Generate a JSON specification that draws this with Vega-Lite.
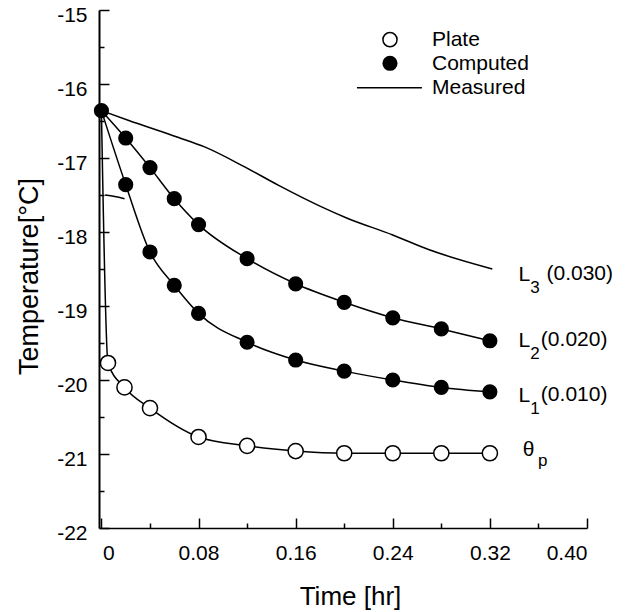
{
  "$schema": "https://vega.github.io/schema/vega-lite/v6.json",
  "width": 488,
  "height": 518,
  "autosize": {"type": "none"},
  "padding": {"left": 99, "top": 10, "right": 48, "bottom": 84},
  "background": "white",
  "config": {
    "view": {"stroke": null},
    "font": "Liberation Sans",
    "axis": {"grid": false, "domainColor": "black", "tickColor": "black", "labelColor": "black", "titleColor": "black", "labelFont": "Liberation Sans", "titleFont": "Liberation Sans", "titleFontWeight": "normal"}
  },
  "resolve": {"axis": {"x": "independent", "y": "independent"}},
  "datasets": {
    "curves": [
      {"s": "Measured", "t": 0, "T": -16.36, "m": "none"},
      {"s": "Measured", "t": 0.022, "T": -16.49, "m": "none"},
      {"s": "Measured", "t": 0.063, "T": -16.72, "m": "none"},
      {"s": "Measured", "t": 0.085, "T": -16.85, "m": "none"},
      {"s": "Measured", "t": 0.118, "T": -17.12, "m": "none"},
      {"s": "Measured", "t": 0.146, "T": -17.37, "m": "none"},
      {"s": "Measured", "t": 0.18, "T": -17.65, "m": "none"},
      {"s": "Measured", "t": 0.202, "T": -17.81, "m": "none"},
      {"s": "Measured", "t": 0.24, "T": -18.04, "m": "none"},
      {"s": "Measured", "t": 0.27, "T": -18.24, "m": "none"},
      {"s": "Measured", "t": 0.322, "T": -18.5, "m": "none"},
      {"s": "L2", "t": 0, "T": -16.36, "m": "filled"},
      {"s": "L2", "t": 0.02, "T": -16.73, "m": "filled"},
      {"s": "L2", "t": 0.04, "T": -17.13, "m": "filled"},
      {"s": "L2", "t": 0.06, "T": -17.55, "m": "filled"},
      {"s": "L2", "t": 0.08, "T": -17.9, "m": "filled"},
      {"s": "L2", "t": 0.12, "T": -18.36, "m": "filled"},
      {"s": "L2", "t": 0.16, "T": -18.7, "m": "filled"},
      {"s": "L2", "t": 0.2, "T": -18.95, "m": "filled"},
      {"s": "L2", "t": 0.24, "T": -19.16, "m": "filled"},
      {"s": "L2", "t": 0.28, "T": -19.31, "m": "filled"},
      {"s": "L2", "t": 0.32, "T": -19.47, "m": "filled"},
      {"s": "L1", "t": 0, "T": -16.36, "m": "none"},
      {"s": "L1", "t": 0.02, "T": -17.36, "m": "filled"},
      {"s": "L1", "t": 0.04, "T": -18.27, "m": "filled"},
      {"s": "L1", "t": 0.06, "T": -18.72, "m": "filled"},
      {"s": "L1", "t": 0.08, "T": -19.1, "m": "filled"},
      {"s": "L1", "t": 0.12, "T": -19.49, "m": "filled"},
      {"s": "L1", "t": 0.16, "T": -19.73, "m": "filled"},
      {"s": "L1", "t": 0.2, "T": -19.88, "m": "filled"},
      {"s": "L1", "t": 0.24, "T": -20.0, "m": "filled"},
      {"s": "L1", "t": 0.28, "T": -20.1, "m": "filled"},
      {"s": "L1", "t": 0.32, "T": -20.16, "m": "filled"},
      {"s": "Plate", "t": 0, "T": -16.36, "m": "none"},
      {"s": "Plate", "t": 0.0054, "T": -19.77, "m": "open"},
      {"s": "Plate", "t": 0.019, "T": -20.1, "m": "open"},
      {"s": "Plate", "t": 0.04, "T": -20.38, "m": "open"},
      {"s": "Plate", "t": 0.08, "T": -20.77, "m": "open"},
      {"s": "Plate", "t": 0.12, "T": -20.89, "m": "open"},
      {"s": "Plate", "t": 0.16, "T": -20.96, "m": "open"},
      {"s": "Plate", "t": 0.2, "T": -20.99, "m": "open"},
      {"s": "Plate", "t": 0.24, "T": -20.99, "m": "open"},
      {"s": "Plate", "t": 0.28, "T": -20.99, "m": "open"},
      {"s": "Plate", "t": 0.32, "T": -20.99, "m": "open"},
      {"s": "Stray", "t": 0.003, "T": -17.5, "m": "none"},
      {"s": "Stray", "t": 0.011, "T": -17.52, "m": "none"},
      {"s": "Stray", "t": 0.019, "T": -17.55, "m": "none"}
    ],
    "legend": [
      {"item": "Plate", "t": 0.2377, "T": -15.4, "kind": "open"},
      {"item": "Computed", "t": 0.2377, "T": -15.72, "kind": "filled"}
    ],
    "legendline": [
      {"item": "Measured", "t": 0.2105, "t2": 0.264, "T": -16.05}
    ],
    "legendtext": [
      {"item": "Plate", "t": 0.2723, "T": -15.4},
      {"item": "Computed", "t": 0.2723, "T": -15.73},
      {"item": "Measured", "t": 0.2723, "T": -16.06}
    ],
    "labels": [
      {"txt": "L", "t": 0.3436, "T": -18.58, "kind": "main"},
      {"txt": "(0.030)", "t": 0.3666, "T": -18.57, "kind": "main"},
      {"txt": "L", "t": 0.3436, "T": -19.47, "kind": "main"},
      {"txt": "(0.020)", "t": 0.362, "T": -19.46, "kind": "main"},
      {"txt": "L", "t": 0.3436, "T": -20.22, "kind": "main"},
      {"txt": "(0.010)", "t": 0.362, "T": -20.2, "kind": "main"},
      {"txt": "θ", "t": 0.347, "T": -20.95, "kind": "main"},
      {"txt": "3", "t": 0.3532, "T": -18.76, "kind": "sub"},
      {"txt": "2", "t": 0.3532, "T": -19.65, "kind": "sub"},
      {"txt": "1", "t": 0.3532, "T": -20.39, "kind": "sub"},
      {"txt": "p", "t": 0.3597, "T": -21.1, "kind": "sub"}
    ]
  },
  "encoding": {
    "x": {"field": "t", "type": "quantitative", "scale": {"domain": [-0.002, 0.4], "nice": false, "zero": false}, "axis": null},
    "y": {"field": "T", "type": "quantitative", "scale": {"domain": [-22, -15], "nice": false, "zero": false}, "axis": null}
  },
  "layer": [
    {
      "data": {"name": "curves"},
      "mark": {"type": "line", "color": "black", "strokeWidth": 1.5, "interpolate": "monotone"},
      "encoding": {
        "detail": {"field": "s"},
        "x": {
          "field": "t", "type": "quantitative",
          "scale": {"domain": [-0.002, 0.4], "nice": false, "zero": false},
          "axis": {
            "orient": "bottom",
            "title": "Time [hr]",
            "values": [0, 0.08, 0.16, 0.24, 0.32, 0.4],
            "labelExpr": "datum.value == 0 ? '0' : format(datum.value, '.2f')",
            "labelOffset": {"condition": {"test": "datum.value == 0", "value": 7}, "value": 0},
            "tickSize": -10,
            "tickWidth": 1.5,
            "domainWidth": 1.5,
            "labelFontSize": 21,
            "labelPadding": 24,
            "titleFontSize": 26,
            "titleX": 251,
            "titleY": 68,
            "titleBaseline": "middle",
            "titleAlign": "center"
          }
        },
        "y": {
          "field": "T", "type": "quantitative",
          "scale": {"domain": [-22, -15], "nice": false, "zero": false},
          "axis": {
            "orient": "left",
            "title": "Temperature[°C]",
            "values": [-22, -21, -20, -19, -18, -17, -16, -15],
            "labelExpr": "'-' + abs(datum.value)",
            "labelOffset": 5,
            "tickSize": -10,
            "tickWidth": 1.5,
            "domainWidth": 2,
            "labelFontSize": 21,
            "labelPadding": 22,
            "titleFontSize": 27,
            "titleX": -70,
            "titleY": 266,
            "titleAngle": -90,
            "titleBaseline": "middle",
            "titleAlign": "center"
          }
        }
      }
    },
    {
      "data": {"name": "curves"},
      "transform": [{"filter": "datum.m == 'filled'"}],
      "mark": {"type": "point", "shape": "circle", "filled": true, "color": "black", "opacity": 1, "size": 230},
      "encoding": {
        "x": {
          "field": "t", "type": "quantitative",
          "scale": {"domain": [-0.002, 0.4], "nice": false, "zero": false},
          "axis": {"orient": "bottom", "values": [0.04, 0.12, 0.2, 0.28, 0.36], "labels": false, "domain": false, "title": null, "tickSize": -5, "tickWidth": 1.5}
        },
        "y": {
          "field": "T", "type": "quantitative",
          "scale": {"domain": [-22, -15], "nice": false, "zero": false},
          "axis": {"orient": "left", "values": [-21.5, -20.5, -19.5, -18.5, -17.5, -16.5, -15.5], "labels": false, "domain": false, "title": null, "tickSize": -5, "tickWidth": 1.5}
        }
      }
    },
    {
      "data": {"name": "curves"},
      "transform": [{"filter": "datum.m == 'open'"}],
      "mark": {"type": "point", "shape": "circle", "filled": true, "fill": "white", "stroke": "black", "strokeWidth": 1.5, "opacity": 1, "size": 230}
    },
    {
      "data": {"name": "legend"},
      "transform": [{"filter": "datum.kind == 'open'"}],
      "mark": {"type": "point", "shape": "circle", "filled": true, "fill": "white", "stroke": "black", "strokeWidth": 1.5, "opacity": 1, "size": 200}
    },
    {
      "data": {"name": "legend"},
      "transform": [{"filter": "datum.kind == 'filled'"}],
      "mark": {"type": "point", "shape": "circle", "filled": true, "color": "black", "opacity": 1, "size": 230}
    },
    {
      "data": {"name": "legendline"},
      "mark": {"type": "rule", "color": "black", "strokeWidth": 1.5},
      "encoding": {"x2": {"field": "t2"}}
    },
    {
      "data": {"name": "legendtext"},
      "mark": {"type": "text", "align": "left", "baseline": "middle", "fontSize": 21, "font": "Liberation Sans", "color": "black"},
      "encoding": {"text": {"field": "item"}}
    },
    {
      "data": {"name": "labels"},
      "transform": [{"filter": "datum.kind == 'main'"}],
      "mark": {"type": "text", "align": "left", "baseline": "middle", "fontSize": 21, "font": "Liberation Sans", "color": "black"},
      "encoding": {"text": {"field": "txt"}}
    },
    {
      "data": {"name": "labels"},
      "transform": [{"filter": "datum.kind == 'sub'"}],
      "mark": {"type": "text", "align": "left", "baseline": "middle", "fontSize": 17, "font": "Liberation Sans", "color": "black"},
      "encoding": {"text": {"field": "txt"}}
    }
  ]
}
